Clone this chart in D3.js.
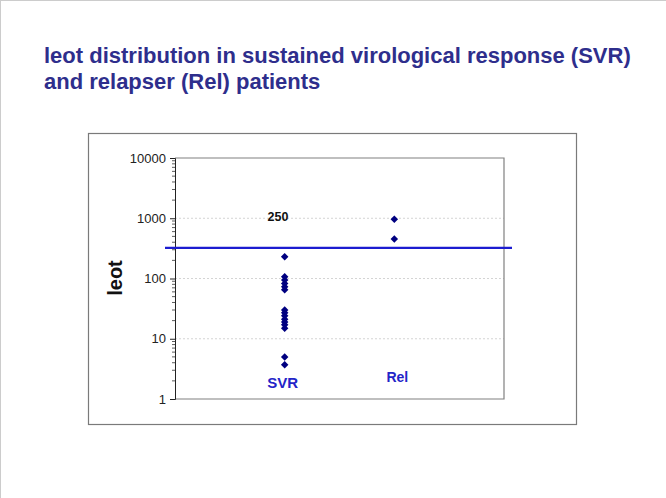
<!DOCTYPE html>
<html><head><meta charset="utf-8">
<script src="https://cdn.jsdelivr.net/npm/d3@7"></script>
<style>body{margin:0;background:#fff}svg{display:block}text{font-family:Arial,"Liberation Sans",sans-serif}</style>
</head><body><svg id="c" width="666" height="498"></svg>
<script>
const titleLines = ["leot distribution in sustained virological response (SVR)", "and relapser (Rel) patients"];
const categories = ["SVR", "Rel"];
const svrValues = [230, 107, 94, 83, 73, 65, 30, 27, 24, 21, 19, 17, 15, 5.0, 3.7];
const relValues = [961, 452];
const majorTicks = [1, 10, 100, 1000, 10000];
const gridTicks = [10, 100, 1000];
const thresholdValue = 322;
const thresholdLabel = "250";
const yLabel = "leot";

const svg = d3.select("#c");
svg.append("line").attr("x1",0.5).attr("x2",0.5).attr("y1",0).attr("y2",498).attr("stroke","#ccc");
svg.append("line").attr("x1",0).attr("x2",666).attr("y1",0.5).attr("y2",0.5).attr("stroke","#ccc");

svg.selectAll("text.title").data(titleLines).join("text")
  .attr("class","title").attr("x",44).attr("y",(d,i)=>63+i*25.5)
  .attr("font-size",22).attr("font-weight","bold").attr("fill","#2e2e8c").text(d=>d);

svg.append("rect").attr("x",88.5).attr("y",133.5).attr("width",488).attr("height",291)
  .attr("fill","none").attr("stroke","#7a7a7a").attr("stroke-width",1.2);

const L=175, R=504, T=158, B=399;
const y = d3.scaleLog().domain([1,10000]).range([B,T]);
const x = d3.scaleLinear().domain([0,3]).range([L,R]);

svg.selectAll("line.grid").data(gridTicks).join("line").attr("class","grid")
  .attr("x1",L).attr("x2",R).attr("y1",d=>y(d)).attr("y2",d=>y(d))
  .attr("stroke","#d4d4d4").attr("stroke-dasharray","2,2");

svg.append("path").attr("d",`M${L},${T}H${R}V${B}H${L}`).attr("fill","none").attr("stroke","#808080").attr("stroke-width",1.2);

const minor = [];
for (let e=0;e<4;e++) for (let k=2;k<=9;k++) minor.push(k*Math.pow(10,e));
svg.selectAll("line.minor").data(minor).join("line").attr("class","minor")
  .attr("x1",L-3).attr("x2",L).attr("y1",d=>y(d)).attr("y2",d=>y(d)).attr("stroke","#333").attr("stroke-width",0.8);

const axis = d3.axisLeft(y).tickValues(majorTicks).tickFormat(d3.format("d")).tickSizeOuter(0).tickSize(5).tickPadding(4);
const ag = svg.append("g").attr("transform",`translate(${L},0)`).call(axis);
ag.select(".domain").attr("stroke","#222");
ag.selectAll(".tick line").attr("stroke","#222");
ag.selectAll(".tick text").attr("font-size",13).attr("fill","#222").attr("font-family","Arial, 'Liberation Sans', sans-serif");

svg.append("text").attr("transform","translate(122,278) rotate(-90)").attr("text-anchor","middle")
  .attr("font-size",20).attr("font-weight","bold").attr("fill","#111").text(yLabel);

svg.append("line").attr("x1",165).attr("x2",512).attr("y1",y(thresholdValue)).attr("y2",y(thresholdValue))
  .attr("stroke","#1c1cd0").attr("stroke-width",2.4);
svg.append("text").attr("x",278).attr("y",y(thresholdValue)-27).attr("text-anchor","middle")
  .attr("font-size",12.5).attr("font-weight","bold").attr("fill","#111").text(thresholdLabel);

const pts = svrValues.map(v=>({c:1,v})).concat(relValues.map(v=>({c:2,v})));
const sym = d3.symbol().type(d3.symbolSquare).size(28);
svg.selectAll("path.pt").data(pts).join("path").attr("class","pt")
  .attr("d",sym).attr("transform",d=>`translate(${x(d.c)},${y(d.v)}) rotate(45)`)
  .attr("fill","#000080");

svg.append("text").attr("x",x(1)-2).attr("y",387.5).attr("text-anchor","middle")
  .attr("font-size",15).attr("font-weight","bold").attr("fill","#2424c8").text(categories[0]);
svg.append("text").attr("x",x(2)+3).attr("y",382).attr("text-anchor","middle")
  .attr("font-size",14).attr("font-weight","bold").attr("fill","#2424c8").text(categories[1]);
</script></body></html>
